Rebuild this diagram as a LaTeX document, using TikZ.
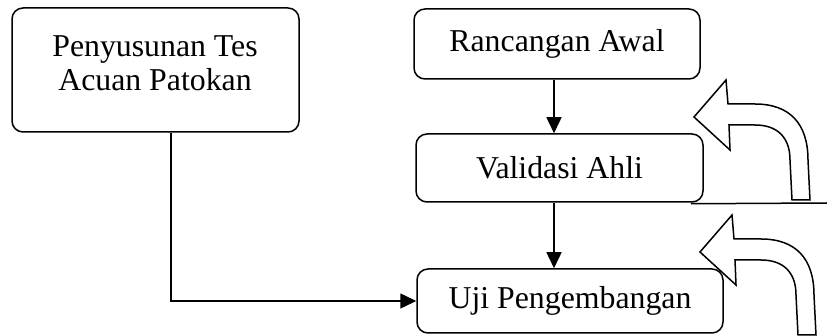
\documentclass[tikz,border=0pt]{standalone}
\usepackage{fontspec}
\setmainfont{Liberation Serif}
\usetikzlibrary{arrows.meta}
\begin{document}
\begin{tikzpicture}[x=1pt,y=-1pt,
  every node/.style={font=\fontsize{31.8}{34}\selectfont},
  stagebox/.style={draw, line width=1.5pt, rounded corners=11pt, align=center, inner sep=0pt},
  link/.style={line width=1.5pt, -{Triangle[length=16pt,width=15pt]}},
  bentarrow/.pic={
    \draw[line width=1.5pt, fill=white, line join=miter]
      (694,117) -- (726,80) -- (728,104) -- (755,104)
      .. controls (790,104) and (808,124) .. (808,160)
      -- (810,200) -- (792,200) -- (790,160)
      .. controls (790,138) and (778,125) .. (755,125)
      -- (729,125) -- (730,150) -- cycle;
  }]
\useasboundingbox (0,0) rectangle (827,336);

\node[stagebox, minimum width=287pt, minimum height=124pt] (penyusunan) at (155.5,70) {};
\node (penyusunanlabel) at (155,63) [align=center] {Penyusunan Tes\\Acuan Patokan};

\node[stagebox, minimum width=286pt, minimum height=70pt] (rancangan) at (557,44) {Rancangan Awal};
\node[stagebox, minimum width=287pt, minimum height=68pt] (validasi) at (559.5,168) {Validasi Ahli};
\node[stagebox, minimum width=306pt, minimum height=64pt] (uji) at (570,301) {Uji Pengembangan};

% vertical flow
\draw[link] ([xshift=-3pt]rancangan.south) -- ([xshift=-3pt]rancangan.south |- validasi.north);
\draw[link] ([xshift=-5.5pt]validasi.south) -- ([xshift=-5.5pt]validasi.south |- uji.north);
% side input into the development test
\draw[link] ([xshift=15.5pt]penyusunan.south) |- (uji.west);

% ground line under the expert validation step
\coordinate (groundend) at (827,203);
\draw[line width=1.5pt] (validasi.south east) ++(-13,1) coordinate (groundstart) -- (groundend);

% revision loops
\pic at (0,0) {bentarrow};
\pic at (6,135) {bentarrow};
\end{tikzpicture}
\end{document}
